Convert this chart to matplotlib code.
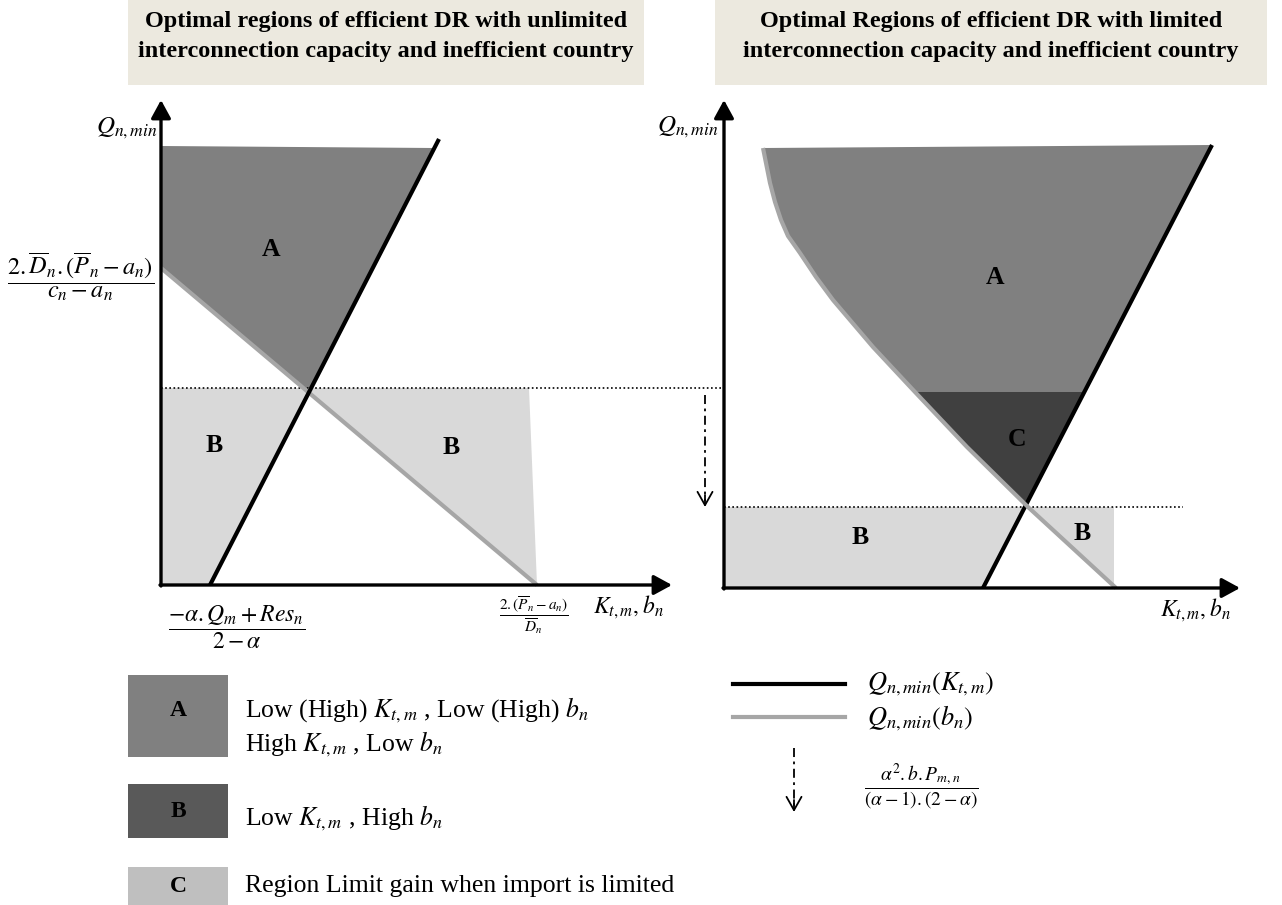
import numpy as np
import matplotlib
matplotlib.use('Agg')
import matplotlib.pyplot as plt
from matplotlib.patches import Rectangle, Polygon

plt.rcParams['font.family'] = ['Liberation Serif', 'DejaVu Serif']
plt.rcParams['mathtext.fontset'] = 'stix'

# Schematic values (axis units, origin where the axes cross)
# left panel: unlimited interconnection capacity
LEFT_AXIS_LEN = (511, 485)
LEFT_K_X = [49, 278]          # Q_n,min(K_t,m), black line
LEFT_K_Y = [0, 446]
LEFT_B_X = [0, 376]           # Q_n,min(b_n), grey line
LEFT_B_Y = [317, 0]
LEFT_A_TOP = [439, 437]       # top edge of region A (at y-axis, at black line)
LEFT_LIMIT = 197              # dotted threshold
LEFT_B_EDGE_X = [368, 376]    # right edge of the right B region (top, bottom)

# right panel: limited interconnection capacity
RIGHT_AXIS_LEN = (516, 488)
RIGHT_K_X = [259, 488]
RIGHT_K_Y = [0, 443]
RIGHT_B_X = [39, 42, 46, 51, 57, 64, 76, 92, 109, 149, 191, 243, 304, 392]
RIGHT_B_Y = [440, 425, 405, 386, 368, 352, 335, 311, 288, 241, 196, 141, 81, 0]
RIGHT_C_TOP = 196
RIGHT_LIMIT = 81
RIGHT_LIMIT_END = 459
RIGHT_B_EDGE_X = 390
RIGHT_SHIFT = (-19, 193)      # x of shift arrow, y where it starts

TITLES = ['Optimal regions of efficient DR with unlimited\ninterconnection capacity and inefficient country',
          'Optimal Regions of efficient DR with limited\ninterconnection capacity and inefficient country']
LEGEND_LETTERS = ['A', 'B', 'C']
LEGEND_TEXTS = [['Low (High) $K_{t,m}$ , Low (High) $b_n$', 'High $K_{t,m}$ , Low $b_n$'],
                ['Low $K_{t,m}$ , High $b_n$'],
                ['Region Limit gain when import is limited']]

# styles
COL_A = '#808080'
COL_B = '#d9d9d9'
COL_C = '#404040'
COL_GREY_LINE = '#a6a6a6'
LEG_COLORS = ['#808080', '#595959', '#bfbfbf']
TITLE_BG = '#ece9df'
W, H = 1282, 905


def cross(p1, p2, q1, q2):
    p1, p2, q1, q2 = map(np.asarray, (p1, p2, q1, q2))
    a = np.array([p2 - p1, q1 - q2]).T
    t, s = np.linalg.solve(a, q1 - p1)
    return p1 + t * (p2 - p1), t, s


def x_at(p1, p2, y):
    return p1[0] + (y - p1[1]) / (p2[1] - p1[1]) * (p2[0] - p1[0])


def panel_axes(ox, oy):
    ax = fig.add_axes([0, 0, 1, 1])
    ax.set_xlim(-ox, W - ox)
    ax.set_ylim(-(H - oy), oy)
    ax.set_facecolor('none')
    ax.axis('off')
    return ax


def draw_axes_arrows(ax, length):
    style = dict(arrowstyle='-|>,head_length=0.55,head_width=0.3', mutation_scale=20,
                 lw=2.4, color='black', shrinkA=0, shrinkB=0)
    ax.annotate('', xy=(length[0], 0), xytext=(-1, 0), arrowprops=style)
    ax.annotate('', xy=(0, length[1]), xytext=(0, -1), arrowprops=style)


fig = plt.figure(figsize=(W / 100, H / 100), dpi=100)

# layout layer: title boxes and legend
lay = fig.add_axes([0, 0, 1, 1])
lay.set_xlim(0, W)
lay.set_ylim(H, 0)
lay.axis('off')
for (x0, x1), title in zip([(128, 644), (715, 1267)], TITLES):
    lay.add_patch(Rectangle((x0, 0), x1 - x0, 85, color=TITLE_BG, lw=0))
    for i, line in enumerate(title.split('\n')):
        lay.text((x0 + x1) / 2, 27 + 30 * i, line, ha='center', va='baseline',
                 fontsize=17.5, fontweight='bold')

box_y = [(675, 757), (784, 838), (867, 906)]
letter_y = [710, 811, 886]
text_y = [[710, 744], [818], [886]]
for (y0, y1), ly, letter, col, texts, ty in zip(box_y, letter_y, LEGEND_LETTERS, LEG_COLORS,
                                                LEGEND_TEXTS, text_y):
    lay.add_patch(Rectangle((128, y0), 100, y1 - y0, color=col, lw=0))
    lay.text(178, ly, letter, ha='center', va='center', fontsize=17, fontweight='bold')
    for t, y in zip(texts, ty):
        lay.text(245, y, t, ha='left', va='center', fontsize=18.5)

lay.plot([733, 845], [684, 684], color='black', lw=3)
lay.plot([733, 845], [717, 717], color=COL_GREY_LINE, lw=3)
lay.text(867, 684, r'$Q_{n,min}(K_{t,m})$', ha='left', va='center', fontsize=19)
lay.text(867, 718, r'$Q_{n,min}(b_n)$', ha='left', va='center', fontsize=19)
lay.plot([794, 794], [748, 806], color='black', lw=1.3, dashes=(5, 2.5, 1.5, 2.5))
lay.annotate('', xy=(794, 812), xytext=(794, 800),
             arrowprops=dict(arrowstyle='->,head_length=0.8,head_width=0.45', mutation_scale=12,
                             lw=1.3, color='black', shrinkA=0, shrinkB=0))
lay.text(921, 786, r'$\dfrac{\alpha^2.b.P_{m,n}}{(\alpha-1).(2-\alpha)}$', ha='center', va='center',
         fontsize=14)

# ---- left panel ----
axl = panel_axes(161, 585)
k1, k2 = (LEFT_K_X[0], LEFT_K_Y[0]), (LEFT_K_X[1], LEFT_K_Y[1])
g1, g2 = (LEFT_B_X[0], LEFT_B_Y[0]), (LEFT_B_X[1], LEFT_B_Y[1])
pint, _, _ = cross(k1, k2, g1, g2)
region_a = [(0, LEFT_A_TOP[0]), (x_at(k1, k2, LEFT_A_TOP[1]), LEFT_A_TOP[1]), tuple(pint), g1]
region_b1 = [(0, LEFT_LIMIT), (x_at(k1, k2, LEFT_LIMIT), LEFT_LIMIT), k1, (0, 0)]
region_b2 = [(x_at(g1, g2, LEFT_LIMIT), LEFT_LIMIT), (LEFT_B_EDGE_X[0], LEFT_LIMIT), (LEFT_B_EDGE_X[1], 0)]
axl.add_patch(Polygon(region_a, closed=True, color=COL_A, lw=0))
axl.add_patch(Polygon(region_b1, closed=True, color=COL_B, lw=0))
axl.add_patch(Polygon(region_b2, closed=True, color=COL_B, lw=0))
axl.plot([0, 724 - 161], [LEFT_LIMIT, LEFT_LIMIT], color='black', lw=1.2, linestyle=(0, (1, 1.5)))
axl.plot(LEFT_B_X, LEFT_B_Y, color=COL_GREY_LINE, lw=3, solid_capstyle='butt')
axl.plot(LEFT_K_X, LEFT_K_Y, color='black', lw=3, solid_capstyle='butt')
draw_axes_arrows(axl, LEFT_AXIS_LEN)

axl.text(110, 335, 'A', fontsize=18.5, fontweight='bold', ha='center', va='center')
axl.text(53, 140, 'B', fontsize=18.5, fontweight='bold', ha='center', va='center')
axl.text(290, 138, 'B', fontsize=18.5, fontweight='bold', ha='center', va='center')
axl.text(-4, 457, r'$Q_{n,min}$', fontsize=18, ha='right', va='center')
axl.text(-80, 308, r'$\dfrac{2.\overline{D}_n.(\overline{P}_n-a_n)}{c_n-a_n}$', fontsize=17.5,
         ha='center', va='center')
axl.text(76, -42, r'$\dfrac{-\alpha.Q_m+Res_n}{2-\alpha}$', fontsize=17, ha='center', va='center')
axl.text(373, -30, r'$\dfrac{2.(\overline{P}_n-a_n)}{\overline{D}_n}$', fontsize=11,
         ha='center', va='center')
axl.text(467, -22, r'$K_{t,m}, b_n$', fontsize=17, ha='center', va='center')

# ---- right panel ----
axr = panel_axes(724, 588)
k1, k2 = (RIGHT_K_X[0], RIGHT_K_Y[0]), (RIGHT_K_X[1], RIGHT_K_Y[1])
curve = list(zip(RIGHT_B_X, RIGHT_B_Y))
pint = None
for i in range(len(curve) - 1):
    p, t, s = cross(k1, k2, curve[i], curve[i + 1])
    if 0 <= s <= 1:
        pint, seg = p, i
        break
wedge = curve[:seg + 1] + [tuple(pint), k2]
axr.add_patch(Polygon(wedge, closed=True, color=COL_A, lw=0))
c_patch = Polygon(wedge, closed=True, color=COL_C, lw=0)
axr.add_patch(c_patch)
c_patch.set_clip_path(Rectangle((-800, -400), 1600, 400 + RIGHT_C_TOP, transform=axr.transData))

gx_lim = np.interp(RIGHT_LIMIT, RIGHT_B_Y[::-1], RIGHT_B_X[::-1])
gy_edge = np.interp(RIGHT_B_EDGE_X, RIGHT_B_X, RIGHT_B_Y)
region_b1 = [(0, RIGHT_LIMIT), (x_at(k1, k2, RIGHT_LIMIT), RIGHT_LIMIT), k1, (0, 0)]
region_b2 = [(gx_lim, RIGHT_LIMIT), (RIGHT_B_EDGE_X, RIGHT_LIMIT), (RIGHT_B_EDGE_X, gy_edge)]
axr.add_patch(Polygon(region_b1, closed=True, color=COL_B, lw=0))
axr.add_patch(Polygon(region_b2, closed=True, color=COL_B, lw=0))
axr.plot([0, RIGHT_LIMIT_END], [RIGHT_LIMIT, RIGHT_LIMIT], color='black', lw=1.2,
         linestyle=(0, (1, 1.5)))
axr.plot(RIGHT_K_X, RIGHT_K_Y, color='black', lw=3, solid_capstyle='butt')
axr.plot(RIGHT_B_X, RIGHT_B_Y, color=COL_GREY_LINE, lw=3, solid_capstyle='butt',
         solid_joinstyle='round')
draw_axes_arrows(axr, RIGHT_AXIS_LEN)

sx, sy = RIGHT_SHIFT
axr.plot([sx, sx], [sy, RIGHT_LIMIT + 6], color='black', lw=1.3, dashes=(5, 2.5, 1.5, 2.5))
axr.annotate('', xy=(sx, RIGHT_LIMIT), xytext=(sx, RIGHT_LIMIT + 12),
             arrowprops=dict(arrowstyle='->,head_length=0.8,head_width=0.45', mutation_scale=12,
                             lw=1.3, color='black', shrinkA=0, shrinkB=0))

axr.text(271, 311, 'A', fontsize=18.5, fontweight='bold', ha='center', va='center')
axr.text(293, 148, 'C', fontsize=18.5, fontweight='bold', ha='center', va='center')
axr.text(136, 50, 'B', fontsize=18.5, fontweight='bold', ha='center', va='center')
axr.text(358, 55, 'B', fontsize=18.5, fontweight='bold', ha='center', va='center')
axr.text(-6, 461, r'$Q_{n,min}$', fontsize=18, ha='right', va='center')
axr.text(471, -22, r'$K_{t,m}, b_n$', fontsize=17, ha='center', va='center')

fig.savefig('out.png', dpi=100)
